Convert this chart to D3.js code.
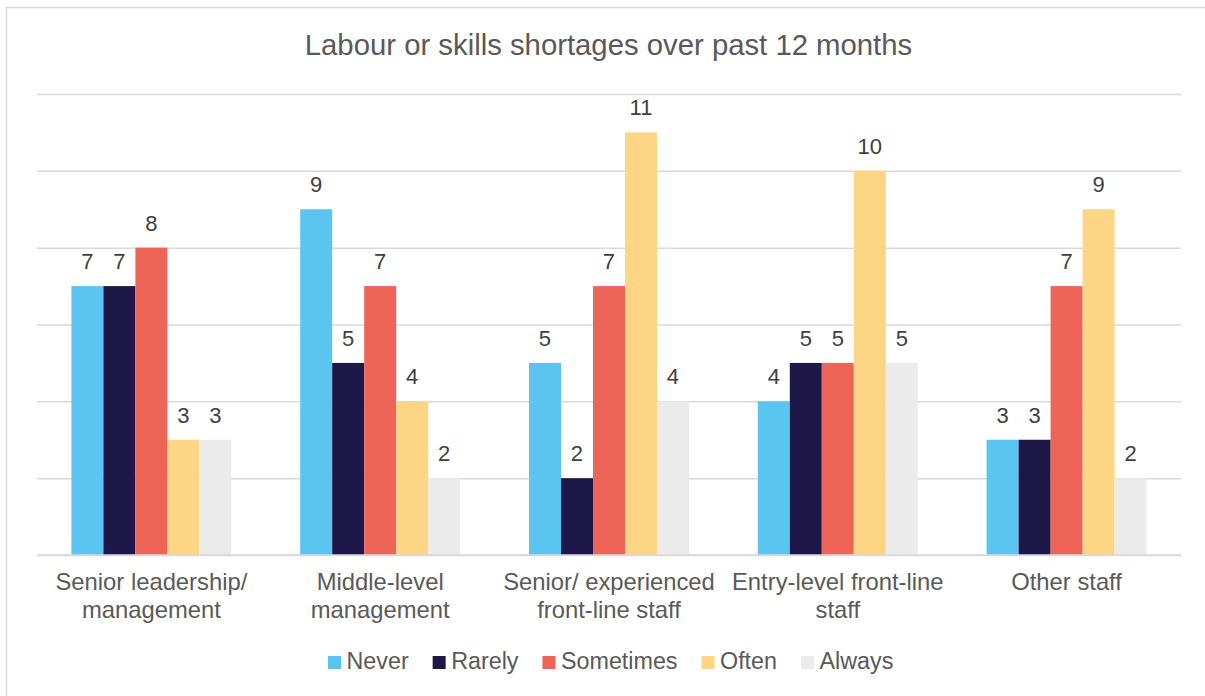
<!DOCTYPE html>
<html>
<head>
<meta charset="utf-8">
<script src="https://cdn.jsdelivr.net/npm/d3@7"></script>
<style>
  html, body { margin: 0; padding: 0; background: #fff; }
  svg { display: block; font-family: "Liberation Sans", Arial, sans-serif; }
</style>
</head>
<body>
<svg id="chart" width="1205" height="696"></svg>
<script>
// Responses per staff group, by how often shortages were experienced
const categories = [
  ["Senior leadership/", "management"],
  ["Middle-level", "management"],
  ["Senior/ experienced", "front-line staff"],
  ["Entry-level front-line", "staff"],
  ["Other staff"]
];
const seriesNames = ["Never", "Rarely", "Sometimes", "Often", "Always"];
const never     = [7, 9, 5, 4, 3];
const rarely    = [7, 5, 2, 5, 3];
const sometimes = [8, 7, 7, 5, 7];
const often     = [3, 4, 11, 10, 9];
const always    = [3, 2, 4, 5, 2];
const yTicks    = [0, 2, 4, 6, 8, 10, 12];

const seriesValues = [never, rarely, sometimes, often, always];
const colors = ["#5BC5F2", "#1E1848", "#EE6558", "#FDD685", "#EBEBEB"];

const svg = d3.select("#chart");
const plot = { left: 37, right: 1181, top: 94, bottom: 555 };

// outer frame
svg.append("rect")
  .attr("x", 6.5).attr("y", 7.5)
  .attr("width", 1205).attr("height", 700)
  .attr("fill", "#fff").attr("stroke", "#d9d9d9").attr("stroke-width", 1.5);

// title
svg.append("text")
  .attr("x", 608.5).attr("y", 55)
  .attr("text-anchor", "middle")
  .attr("fill", "#595959")
  .style("font-size", "29.3px")
  .text("Labour or skills shortages over past 12 months");

const catIdx = categories.map((d, i) => i);
const x0 = d3.scaleBand().domain(catIdx).range([plot.left, plot.right]).paddingInner(0).paddingOuter(0);
const x1 = d3.scaleBand().domain(seriesNames).range([0, x0.bandwidth()]).paddingInner(0).paddingOuter(1.075);
const y = d3.scaleLinear().domain([0, 12]).range([plot.bottom, plot.top]);

// horizontal gridlines
const yAxis = d3.axisLeft(y).tickValues(yTicks).tickSize(-(plot.right - plot.left)).tickFormat("");
const gAxis = svg.append("g").attr("transform", `translate(${plot.left},0)`).call(yAxis);
gAxis.select(".domain").remove();
gAxis.selectAll(".tick line").attr("stroke", "#d9d9d9").attr("stroke-width", 1.5);

// bars
const groups = svg.append("g").selectAll("g")
  .data(catIdx)
  .join("g")
  .attr("transform", i => `translate(${x0(i)},0)`);

groups.selectAll("rect")
  .data(i => seriesNames.map((s, k) => ({ s, k, v: seriesValues[k][i] })))
  .join("rect")
  .attr("x", d => x1(d.s))
  .attr("y", d => y(d.v))
  .attr("width", x1.bandwidth())
  .attr("height", d => y(0) - y(d.v))
  .attr("fill", d => colors[d.k]);

// value labels
groups.selectAll("text")
  .data(i => seriesNames.map((s, k) => ({ s, k, v: seriesValues[k][i] })))
  .join("text")
  .attr("x", d => x1(d.s) + x1.bandwidth() / 2)
  .attr("y", d => y(d.v) - 17)
  .attr("text-anchor", "middle")
  .attr("fill", "#404040")
  .style("font-size", "22px")
  .text(d => d.v);

// baseline
svg.append("line")
  .attr("x1", plot.left).attr("x2", plot.right)
  .attr("y1", y(0)).attr("y2", y(0))
  .attr("stroke", "#d9d9d9").attr("stroke-width", 1.5);

// category labels
const catLabels = svg.append("g").selectAll("text")
  .data(catIdx)
  .join("text")
  .attr("x", i => x0(i) + x0.bandwidth() / 2)
  .attr("y", 590)
  .attr("text-anchor", "middle")
  .attr("fill", "#595959")
  .style("font-size", "23.8px");
catLabels.selectAll("tspan")
  .data(i => categories[i].map(t => ({ t, i })))
  .join("tspan")
  .attr("x", d => x0(d.i) + x0.bandwidth() / 2)
  .attr("dy", (d, j) => j === 0 ? 0 : 28)
  .text(d => d.t);

// legend
const legend = svg.append("g");
const items = legend.selectAll("g").data(seriesNames).join("g");
items.append("rect")
  .attr("width", 13).attr("height", 13)
  .attr("y", 656)
  .attr("fill", (d, k) => colors[k]);
items.append("text")
  .attr("x", 18.5).attr("y", 669)
  .attr("fill", "#595959")
  .style("font-size", "23.3px")
  .text(d => d);
let cx = 0;
const offsets = [];
items.each(function() {
  offsets.push(cx);
  const w = d3.select(this).select("text").node().getComputedTextLength();
  cx += 18.5 + w + 24;
});
const startX = 328;
items.attr("transform", (d, k) => `translate(${startX + offsets[k]},0)`);
</script>
</body>
</html>
